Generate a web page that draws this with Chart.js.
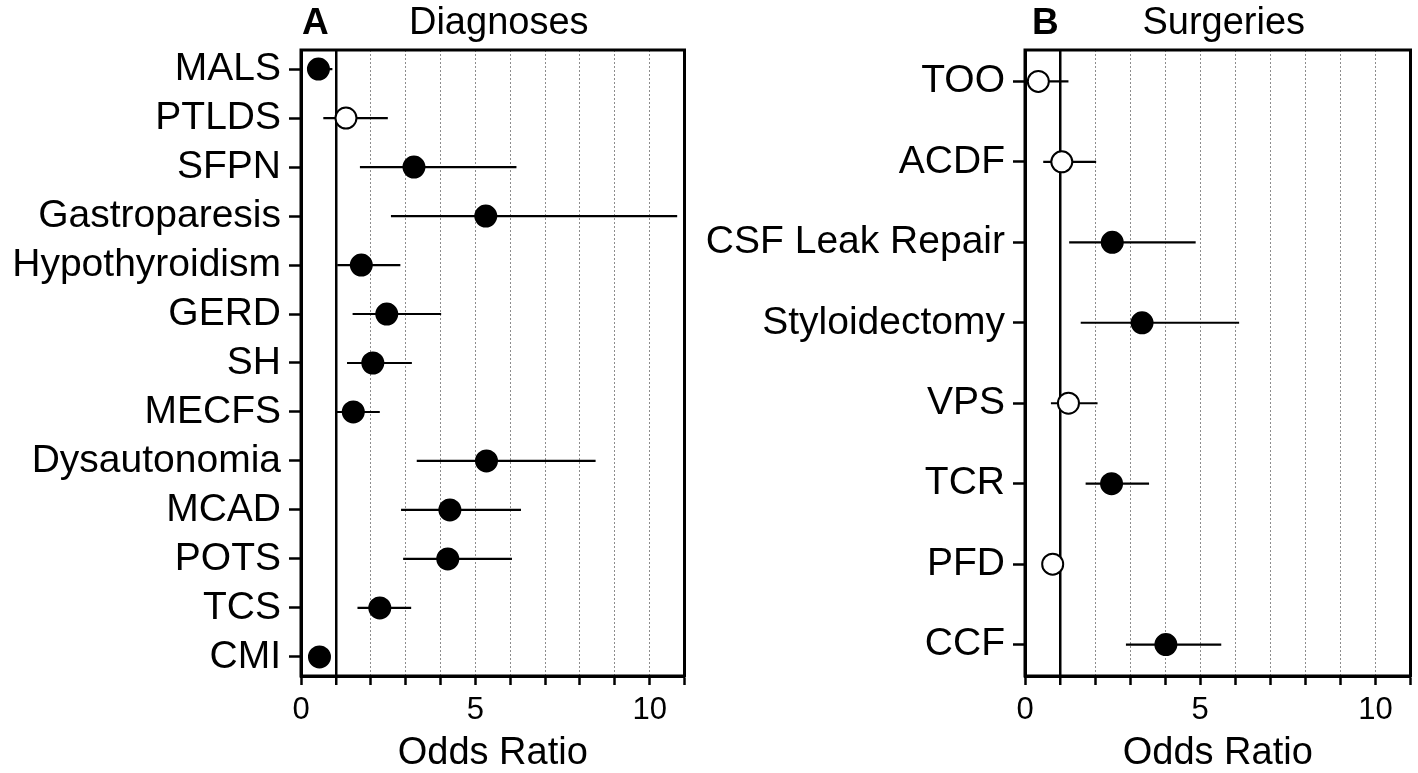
<!DOCTYPE html>
<html>
<head>
<meta charset="utf-8">
<script src="https://cdn.jsdelivr.net/npm/chart.js@4/dist/chart.umd.min.js"></script>
<style>
  body { margin: 0; background: #fff; overflow: hidden; }
  .panel { position: absolute; top: 0; height: 773px; }
  #wrapA { left: 0; width: 697px; }
  #wrapB { left: 690px; width: 733px; }
</style>
</head>
<body>
<div class="panel" id="wrapA"><canvas id="chartA"></canvas></div>
<div class="panel" id="wrapB"><canvas id="chartB"></canvas></div>
<script>
// A - diagnoses
const diagLabels = ['MALS', 'PTLDS', 'SFPN', 'Gastroparesis', 'Hypothyroidism', 'GERD', 'SH', 'MECFS', 'Dysautonomia', 'MCAD', 'POTS', 'TCS', 'CMI'];
const diagOR = [0.5, 1.29, 3.24, 5.30, 1.73, 2.46, 2.06, 1.50, 5.32, 4.27, 4.21, 2.26, 0.53];
const diagLow = [0.3, 0.64, 1.69, 2.58, 1.04, 1.48, 1.32, 1.02, 3.32, 2.87, 2.93, 1.62, 0.42];
const diagHigh = [0.9, 2.49, 6.18, 10.79, 2.85, 4.02, 3.18, 2.26, 8.45, 6.31, 6.05, 3.16, 0.65];
const diagSig = [true, false, true, true, true, true, true, true, true, true, true, true, true];

// B - surgeries
const surgLabels = ['TOO', 'ACDF', 'CSF Leak Repair', 'Styloidectomy', 'VPS', 'TCR', 'PFD', 'CCF'];
const surgOR = [0.38, 1.05, 2.49, 3.34, 1.24, 2.47, 0.79, 4.02];
const surgLow = [0.05, 0.52, 1.26, 1.59, 0.74, 1.73, 0.57, 2.88];
const surgHigh = [1.24, 2.03, 4.87, 6.11, 2.07, 3.54, 1.09, 5.6];
const surgSig = [false, false, true, true, false, true, false, true];

const xTicks = [0, 5, 10];
const xMax = 11;

Chart.defaults.font.family = '"Liberation Sans", Arial, sans-serif';
Chart.defaults.color = '#000';

const framePlugin = {
    id: 'frame',
    afterDraw(chart) {
        const opts = chart.options.plugins.frame;
        const {left, top, right, bottom} = chart.chartArea;
        const ctx = chart.ctx;
        ctx.save();
        ctx.strokeStyle = '#000';
        ctx.lineWidth = 3;
        ctx.strokeRect(left, top, right - left, bottom - top);
        ctx.fillStyle = '#000';
        ctx.textBaseline = 'alphabetic';
        ctx.font = 'bold 37px "Liberation Sans", Arial, sans-serif';
        ctx.textAlign = 'left';
        ctx.fillText(opts.letter, left + opts.letterOffset, 34);
        ctx.font = '38px "Liberation Sans", Arial, sans-serif';
        ctx.textAlign = 'center';
        ctx.fillText(opts.title, (left + right) / 2 + 6, 34);
        ctx.restore();
    }
};

function makeChart(id, letter, title, labels, or, low, high, sig, yWidth, padRight, letterOffset) {
    const datasets = [{
        type: 'scatter',
        data: or.map((v, i) => ({x: v, y: i})),
        pointRadius: 10.5,
        pointHoverRadius: 10.5,
        pointBorderWidth: 2,
        pointBorderColor: '#000',
        pointBackgroundColor: sig.map(s => s ? '#000' : '#fff'),
        order: 0
    }];
    labels.forEach((l, i) => {
        datasets.push({
            type: 'scatter',
            showLine: true,
            data: [{x: low[i], y: i}, {x: high[i], y: i}],
            borderColor: '#000',
            borderWidth: 2.2,
            pointRadius: 0,
            order: 1
        });
    });

    return new Chart(document.getElementById(id), {
        type: 'scatter',
        data: {datasets},
        options: {
            responsive: true,
            maintainAspectRatio: false,
            animation: false,
            layout: {padding: {top: 50, right: padRight, left: 0, bottom: 0}},
            plugins: {
                legend: {display: false},
                tooltip: {enabled: false},
                frame: {letter, title, letterOffset}
            },
            scales: {
                x: {
                    type: 'linear',
                    min: 0,
                    max: xMax,
                    afterFit(scale) { scale.height = 97; },
                    ticks: {
                        stepSize: 1,
                        autoSkip: false,
                        maxRotation: 0,
                        padding: 7,
                        font: {size: 31},
                        callback: v => xTicks.includes(v) ? String(v) : ''
                    },
                    grid: {
                        drawOnChartArea: true,
                        drawTicks: true,
                        tickLength: 9,
                        tickWidth: 2.5,
                        tickColor: '#000',
                        tickBorderDash: [],
                        color: c => (c.tick.value === 0 || c.tick.value === xMax) ? 'rgba(0,0,0,0)' : (c.tick.value === 1 ? '#000' : '#8c8c8c'),
                        lineWidth: c => c.tick.value === 1 ? 2.5 : 1
                    },
                    border: {
                        display: true,
                        color: '#000',
                        width: 3,
                        dash: c => (c.tick && c.tick.value > 1 && c.tick.value < xMax) ? [2, 2] : []
                    },
                    title: {
                        display: true,
                        text: 'Odds Ratio',
                        font: {size: 38, lineHeight: 1},
                        padding: {top: 0, bottom: 0}
                    }
                },
                y: {
                    type: 'linear',
                    reverse: true,
                    min: -0.39,
                    max: labels.length - 1 + 0.39,
                    afterFit(scale) { scale.width = yWidth; },
                    afterBuildTicks(scale) { scale.ticks = labels.map((l, i) => ({value: i})); },
                    ticks: {
                        autoSkip: false,
                        padding: 8,
                        font: {size: 39},
                        callback: v => labels[v]
                    },
                    grid: {
                        drawOnChartArea: false,
                        drawTicks: true,
                        tickLength: 12,
                        tickWidth: 2.5,
                        tickColor: '#000'
                    },
                    border: {display: true, color: '#000', width: 3}
                }
            }
        },
        plugins: [framePlugin]
    });
}

makeChart('chartA', 'A', 'Diagnoses', diagLabels, diagOR, diagLow, diagHigh, diagSig, 301, 5, 1);
makeChart('chartB', 'B', 'Surgeries', surgLabels, surgOR, surgLow, surgHigh, surgSig, 335, 8, 7);
</script>
</body>
</html>
